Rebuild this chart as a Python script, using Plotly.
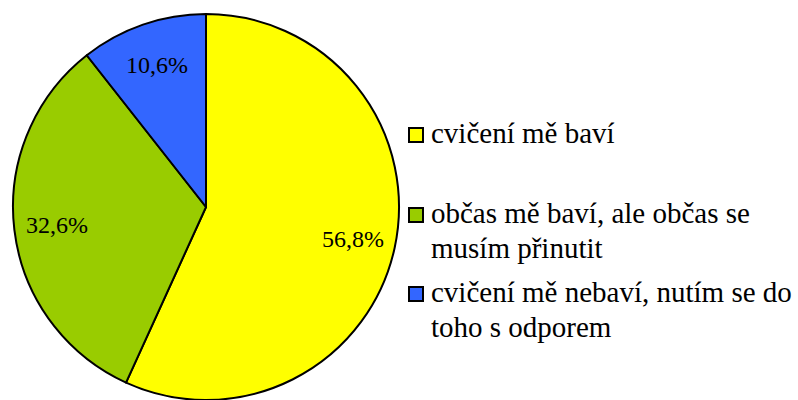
import math
import plotly.graph_objects as go

# Survey answers and their shares (%)
categories = [
    "cvičení mě baví",
    "občas mě baví, ale občas se\nmusím přinutit",
    "cvičení mě nebaví, nutím se do\ntoho s odporem",
]
shares = [56.8, 32.6, 10.6]
colors = ["#FFFF00", "#99CC00", "#3366FF"]

W, H = 798, 400
FONT = "Liberation Serif"

# Pie placement in pixels
pie_left, pie_right = 12, 400
pie_top, pie_bottom = 14, 400
cx = (pie_left + pie_right) / 2
cy = (pie_top + pie_bottom) / 2
radius = min(pie_right - pie_left, pie_bottom - pie_top) / 2

fig = go.Figure(
    go.Pie(
        labels=[c.replace("\n", " ") for c in categories],
        values=shares,
        sort=False,
        direction="clockwise",
        rotation=0,
        marker=dict(colors=colors, line=dict(color="black", width=2)),
        textinfo="none",
        hoverinfo="skip",
        domain=dict(x=[pie_left / W, pie_right / W], y=[1 - pie_bottom / H, 1 - pie_top / H]),
    )
)


def px(x, y):
    return x / W, 1 - y / H


# Percentage labels placed along each slice's middle angle
total = sum(shares)
start = 0.0
for v in shares:
    mid = (start + v / 2) / total * 2 * math.pi
    start += v
    r = 0.78 * radius
    ax, ay = px(cx + r * math.sin(mid), cy - r * math.cos(mid))
    fig.add_annotation(
        x=ax, y=ay, xref="paper", yref="paper", xanchor="center", yanchor="middle",
        text=f"{v:.1f}".replace(".", ",") + "%", showarrow=False,
        font=dict(family=FONT, size=24, color="black"),
    )

# Legend drawn as squares with wrapped text
legend_font = 29
line_step = 35
baselines = [143, 223, 302]
sq_x0, sq_size, text_x = 409, 14, 431
for cat, col, base in zip(categories, colors, baselines):
    x0, y_top = px(sq_x0, base - 1 - sq_size)
    x1, y_bot = px(sq_x0 + sq_size, base - 1)
    fig.add_shape(type="rect", xref="paper", yref="paper", x0=x0, y0=y_bot, x1=x1, y1=y_top,
                  fillcolor=col, line=dict(color="black", width=2))
    for i, line in enumerate(cat.split("\n")):
        b = base + i * line_step
        tx, ty = px(text_x, b - 0.35 * legend_font)
        fig.add_annotation(
            x=tx, y=ty, xref="paper", yref="paper", xanchor="left", yanchor="middle",
            text=line, showarrow=False, xshift=-2,
            font=dict(family=FONT, size=legend_font, color="black"),
        )

fig.update_layout(
    width=W, height=H, margin=dict(l=0, r=0, t=0, b=0),
    paper_bgcolor="white", plot_bgcolor="white",
    showlegend=False,
)

fig.write_html("out.html")
